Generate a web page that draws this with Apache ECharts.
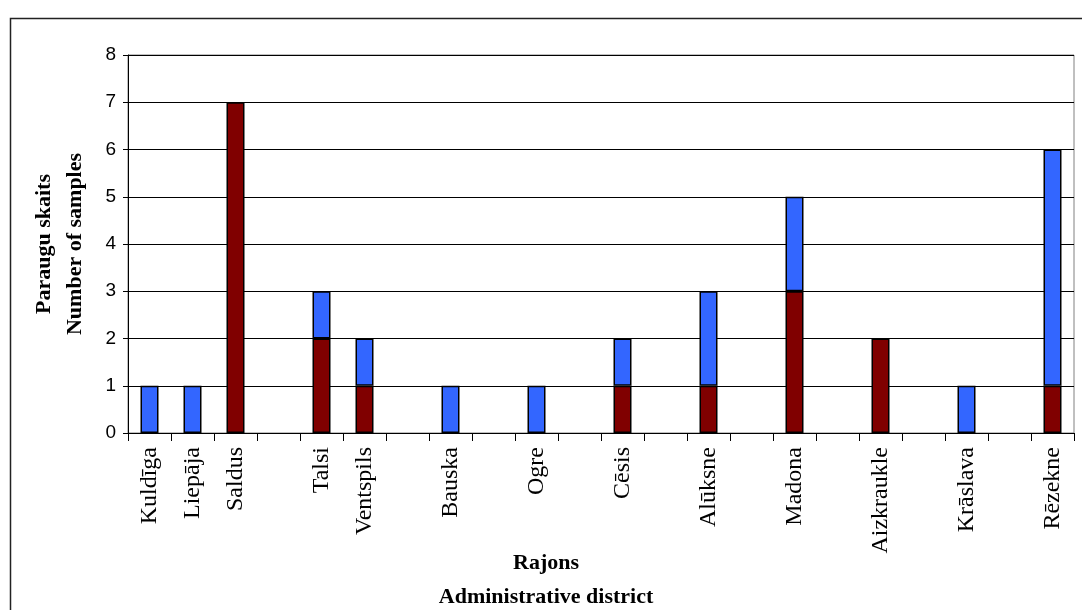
<!DOCTYPE html>
<html>
<head>
<meta charset="utf-8">
<script src="https://cdn.jsdelivr.net/npm/echarts@6/dist/echarts.min.js"></script>
<style>
html,body{margin:0;padding:0;background:#fff;}
#chart{width:1082px;height:610px;}
</style>
</head>
<body>
<div id="chart"></div>
<script>
const categories = ['Kuldīga','Liepāja','Saldus','','Talsi','Ventspils','','Bauska','','Ogre','','Cēsis','','Alūksne','','Madona','','Aizkraukle','','Krāslava','','Rēzekne'];
const redValues  = [null,null,7,null,2,1,null,null,null,null,null,1,null,1,null,3,null,2,null,null,null,1];
const blueValues = [1,1,null,null,1,1,null,1,null,1,null,1,null,2,null,2,null,null,null,1,null,5];
const yMin = 0, yMax = 8, yStep = 1;
const yTitle = 'Paraugu skaits\nNumber of samples';
const xTitle = 'Rajons\nAdministrative district';

const chart = echarts.init(document.getElementById('chart'));
chart.setOption({
  animation: false,
  backgroundColor: '#fff',
  graphic: [{
    type: 'rect', left: 8, top: 16, z: -1,
    shape: { width: 1200, height: 700 },
    style: { fill: 'none', stroke: '#222', lineWidth: 1.5 }
  }],
  grid: { left: 128, right: 8, top: 55, bottom: 177, show: true, borderColor: '#808080', borderWidth: 1, containLabel: false, outerBoundsMode: 'none' },
  xAxis: {
    type: 'category',
    data: categories,
    name: xTitle,
    nameLocation: 'middle',
    nameGap: 113,
    nameMoveOverlap: false,
    nameTextStyle: { fontFamily: 'Liberation Serif', fontWeight: 'bold', fontSize: 22, color: '#000', lineHeight: 34, padding: [0, 110, 0, 0] },
    axisLine: { lineStyle: { color: '#000', width: 1 } },
    axisTick: { show: true, interval: 0, length: 8, alignWithLabel: false, lineStyle: { color: '#000' } },
    axisLabel: { interval: 0, rotate: 90, margin: 14, fontFamily: 'Liberation Serif', fontSize: 24, color: '#000' },
    splitLine: { show: false }
  },
  yAxis: {
    type: 'value',
    min: yMin, max: yMax, interval: yStep,
    name: yTitle,
    nameLocation: 'middle',
    nameGap: 37,
    nameRotate: 90,
    nameMoveOverlap: false,
    nameTextStyle: { fontFamily: 'Liberation Serif', fontWeight: 'bold', fontSize: 22, color: '#000', lineHeight: 31 },
    axisLine: { show: true, lineStyle: { color: '#000', width: 1 } },
    axisTick: { show: true, length: 5, lineStyle: { color: '#000' } },
    axisLabel: { margin: 12, fontFamily: 'Liberation Sans', fontSize: 19, color: '#000' },
    splitLine: { show: true, lineStyle: { color: '#000', width: 1 } }
  },
  series: [
    { name: 'red', type: 'bar', stack: 'a', data: redValues, barWidth: 18,
      itemStyle: { color: '#800000', borderColor: '#000', borderWidth: 1.5 } },
    { name: 'blue', type: 'bar', stack: 'a', data: blueValues, barWidth: 18,
      itemStyle: { color: '#3366FF', borderColor: '#000', borderWidth: 1.5 } }
  ]
});
</script>
</body>
</html>
